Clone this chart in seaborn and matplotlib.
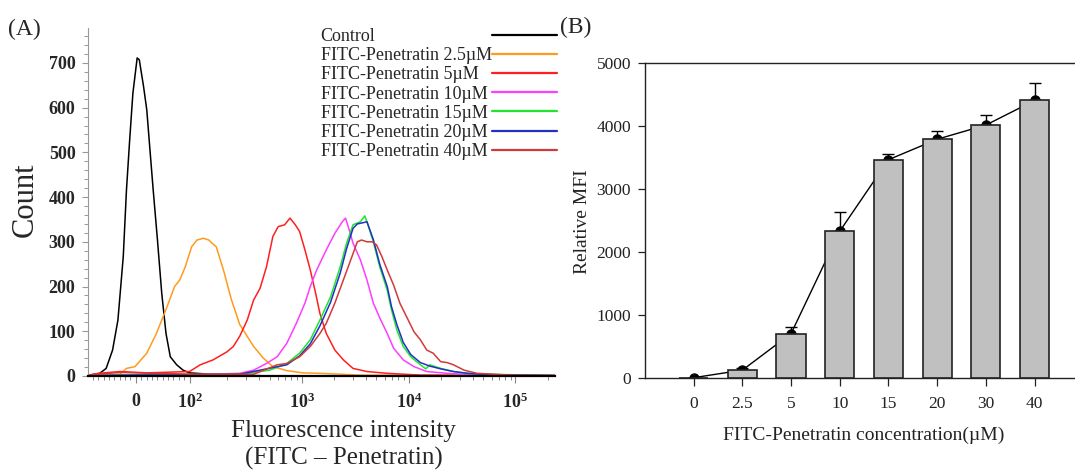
import numpy as np
import pandas as pd
import matplotlib
matplotlib.use("Agg")
import matplotlib.pyplot as plt
import seaborn as sns
from matplotlib.font_manager import FontProperties

# ---------------- data: panel A (flow cytometry histograms) ----------------
# x = position on the (biexponential) fluorescence axis, in decades; y = count
series_labels = ["Control", "FITC-Penetratin 2.5µM", "FITC-Penetratin 5µM",
                 "FITC-Penetratin 10µM", "FITC-Penetratin 15µM",
                 "FITC-Penetratin 20µM", "FITC-Penetratin 40µM"]
series_colors = ["#000000", "#ff9a1f", "#ff1f1f", "#ff3cff", "#1fe62a",
                 "#2230c8", "#d03a3a"]

ctrl_x = [1.00, 1.11, 1.17, 1.23, 1.28, 1.33, 1.36, 1.39, 1.42, 1.46, 1.48, 1.52,
          1.55, 1.58, 1.61, 1.65, 1.69, 1.73, 1.77, 1.83, 1.89, 1.95, 2.14, 2.42,
          2.70, 5.37]
ctrl_y = [1, 6, 17, 58, 125, 267, 416, 528, 632, 711, 707, 647, 595, 505, 416,
          304, 185, 95, 43, 25, 13, 7, 4, 2, 0, 0]

c25_x = [1.00, 1.20, 1.30, 1.36, 1.44, 1.55, 1.64, 1.74, 1.81, 1.86, 1.91, 1.97,
         2.02, 2.08, 2.13, 2.17, 2.20, 2.27, 2.34, 2.42, 2.55, 2.64, 2.73, 2.86,
         3.01, 3.17, 3.55, 5.37]
c25_y = [1, 2, 4, 17, 21, 51, 95, 155, 200, 215, 244, 289, 304, 308, 304, 295,
         289, 235, 172, 115, 66, 40, 21, 12, 7, 6, 2, 1]

c5_x = [1.00, 1.10, 1.30, 1.55, 1.95, 2.05, 2.17, 2.30, 2.36, 2.42, 2.49, 2.55,
        2.61, 2.67, 2.73, 2.78, 2.84, 2.89, 2.94, 2.98, 3.03, 3.08, 3.13, 3.17,
        3.23, 3.31, 3.39, 3.48, 3.61, 3.80, 4.11, 5.37]
c5_y = [2, 6, 10, 7, 10, 25, 36, 54, 66, 89, 125, 170, 196, 244, 312, 334, 338,
        353, 338, 323, 282, 237, 185, 140, 95, 58, 36, 17, 10, 6, 2, 1]

c10_x = [1.00, 1.50, 2.00, 2.42, 2.55, 2.67, 2.77, 2.86, 2.95, 3.03, 3.08, 3.14,
         3.23, 3.31, 3.38, 3.41, 3.44, 3.48, 3.55, 3.61, 3.67, 3.73, 3.80, 3.86,
         3.95, 4.05, 4.17, 4.36, 4.67, 5.37]
c10_y = [1, 3, 3, 6, 13, 28, 43, 73, 118, 163, 200, 237, 282, 319, 345, 353, 330,
         297, 259, 215, 163, 130, 95, 62, 36, 21, 10, 6, 2, 1]

c15_x = [1.00, 1.50, 2.00, 2.42, 2.70, 2.86, 2.98, 3.08, 3.17, 3.27, 3.36, 3.42,
         3.48, 3.55, 3.59, 3.62, 3.67, 3.73, 3.80, 3.84, 3.89, 3.95, 4.02, 4.11,
         4.16, 4.20, 4.30, 4.42, 4.55, 4.73, 5.37]
c15_y = [1, 2, 3, 4, 13, 28, 51, 81, 125, 177, 244, 297, 338, 345, 358, 338, 300,
         244, 192, 148, 103, 66, 43, 25, 16, 25, 17, 10, 6, 4, 1]

c20_x = [1.00, 1.50, 2.00, 2.42, 2.86, 2.98, 3.08, 3.17, 3.27, 3.36, 3.42, 3.48,
         3.52, 3.58, 3.61, 3.67, 3.73, 3.80, 3.84, 3.89, 3.95, 4.02, 4.11, 4.20,
         4.30, 4.42, 4.55, 4.73, 5.37]
c20_y = [1, 2, 3, 4, 25, 45, 72, 112, 165, 230, 285, 330, 340, 343, 345, 305,
         250, 200, 155, 115, 75, 48, 30, 22, 16, 10, 6, 3, 1]

c40_x = [1.00, 1.30, 1.60, 2.00, 2.55, 2.77, 2.86, 2.98, 3.08, 3.17, 3.23, 3.31,
         3.39, 3.47, 3.52, 3.56, 3.61, 3.66, 3.70, 3.75, 3.80, 3.86, 3.92, 3.98,
         4.05, 4.11, 4.17, 4.23, 4.30, 4.36, 4.42, 4.52, 4.64, 4.80, 4.95, 5.37]
c40_y = [2, 8, 6, 4, 4, 25, 28, 43, 66, 95, 118, 163, 215, 267, 300, 304, 300,
         300, 293, 267, 237, 203, 162, 133, 99, 81, 58, 51, 32, 30, 25, 13, 6, 4,
         2, 1]

fl_tick_pos = [1.447, 1.95, 3.0, 4.0, 5.0]
fl_tick_labels = ["0", r"$\mathbf{10^{2}}$", r"$\mathbf{10^{3}}$",
                  r"$\mathbf{10^{4}}$", r"$\mathbf{10^{5}}$"]
count_ticks = [0, 100, 200, 300, 400, 500, 600, 700]

# ---------------- data: panel B (relative MFI) ----------------
conc_labels = ["0", "2.5", "5", "10", "15", "20", "30", "40"]
mfi_values = [5, 125, 705, 2330, 3465, 3790, 4015, 4405]
mfi_err = [0, 30, 105, 300, 95, 125, 165, 285]
mfi_ticks = [0, 1000, 2000, 3000, 4000, 5000]

# ---------------- style ----------------
SERIF = "Liberation Serif"
sns.set_theme(style="ticks")
plt.rcParams["font.family"] = [SERIF, "DejaVu Serif"]
plt.rcParams["mathtext.fontset"] = "custom"
plt.rcParams["mathtext.rm"] = SERIF
plt.rcParams["mathtext.bf"] = SERIF + ":bold"
plt.rcParams["mathtext.it"] = SERIF + ":italic"

W, H = 1075, 470
fig = plt.figure(figsize=(W / 100, H / 100), dpi=100)
ax1 = fig.add_axes([88 / W, 1 - 376 / H, (555 - 88) / W, (376 - 28) / H])
ax2 = fig.add_axes([645 / W, 1 - 378 / H, (1075 - 645) / W, (378 - 63) / H])

# ---------------- panel A ----------------
xs = [ctrl_x, c25_x, c5_x, c10_x, c15_x, c20_x, c40_x]
ys = [ctrl_y, c25_y, c5_y, c10_y, c15_y, c20_y, c40_y]
frames = [pd.DataFrame({"fl": x, "count": y, "series": lab})
          for x, y, lab in zip(xs, ys, series_labels)]
df_hist = pd.concat(frames, ignore_index=True)

sns.lineplot(data=df_hist, x="fl", y="count", hue="series",
             hue_order=series_labels,
             palette=dict(zip(series_labels, series_colors)),
             sort=False, estimator=None, legend=False, linewidth=1.1, ax=ax1)

ax1.set_xlim(1.0, 5.37)
ax1.set_ylim(0, 778)
ax1.set_xticks(fl_tick_pos, labels=fl_tick_labels)
lin_minor = [1.447 + k * 0.0503 for k in range(-8, 10) if k != 0]
log_minor = [d + np.log10(m) for d in (2, 3, 4, 5) for m in range(2, 10)
             if d + np.log10(m) < 5.37]
ax1.set_xticks(lin_minor + log_minor, minor=True)
ax1.set_yticks(count_ticks, labels=[str(t) for t in count_ticks])
ax1.set_yticks(list(range(0, 780, 20)), minor=True)

ax1.tick_params(axis="x", which="major", length=5, width=0.8, color="#888888",
                labelsize=13, pad=7, direction="out", labelfontfamily=SERIF)
ax1.tick_params(axis="x", which="minor", length=3, width=0.7, color="#888888",
                direction="out")
ax1.tick_params(axis="y", which="major", length=4, width=0.8, color="#999999",
                labelsize=13, pad=5, direction="out", labelfontfamily=SERIF)
ax1.tick_params(axis="y", which="minor", length=3, width=0.7, color="#999999",
                direction="out")
for lbl in ax1.get_xticklabels() + ax1.get_yticklabels():
    lbl.set_fontweight("bold")
for s in ("top", "right"):
    ax1.spines[s].set_visible(False)
ax1.spines["left"].set_color("#999999")
ax1.spines["left"].set_linewidth(0.8)
ax1.spines["bottom"].set_color("black")
ax1.spines["bottom"].set_linewidth(1.6)

ax1.set_ylabel("Count", fontsize=22, fontfamily=SERIF)
ax1.yaxis.set_label_coords(-0.103, 0.506)
ax1.set_xlabel("Fluorescence intensity\n(FITC – Penetratin)", fontsize=18,
               linespacing=1.3, fontfamily=SERIF)
ax1.xaxis.set_label_coords(0.548, -0.125)

leg = ax1.legend(handles=ax1.get_lines()[:len(series_labels)],
                 labels=series_labels, loc="upper right",
                 bbox_to_anchor=(1.004, 1.0), markerfirst=False,
                 frameon=False, handlelength=3.6, handletextpad=0.0,
                 labelspacing=0.12, borderpad=0, borderaxespad=0,
                 prop=FontProperties(family=SERIF, size=13))
for line in leg.get_lines():
    line.set_linewidth(1.6)
# left-align the legend texts while keeping the line samples right-aligned
fig.canvas.draw()
rend = fig.canvas.get_renderer()
widths = [t.get_window_extent(rend).width for t in leg.get_texts()]
maxw = max(widths)
try:
    col = leg._legend_handle_box.get_children()[0]
    for hp, w in zip(col.get_children(), widths):
        hp.sep = (maxw - w) * 72.0 / fig.dpi
except Exception:
    pass

# ---------------- panel B ----------------
df_mfi = pd.DataFrame({"conc": conc_labels, "mfi": mfi_values})
pos = np.arange(len(conc_labels))
ax2.plot(pos, mfi_values, color="black", linewidth=1.0, marker="o",
         markersize=6.5, zorder=2)
ax2.errorbar(pos, mfi_values, yerr=[np.zeros(len(mfi_err)), mfi_err],
             fmt="none", ecolor="black", elinewidth=1.0, capsize=4.5,
             capthick=1.0, zorder=2)
sns.barplot(data=df_mfi, x="conc", y="mfi", order=conc_labels,
            color="#c0c0c0", saturation=1, edgecolor="#222222", linewidth=1.2,
            width=0.6, errorbar=None, ax=ax2)
for p in ax2.patches:
    p.set_zorder(3)

ax2.set_xlim(-1.0, 7.83)
ax2.set_ylim(0, 5000)
ax2.set_yticks(mfi_ticks, labels=[str(t) for t in mfi_ticks])
ax2.tick_params(axis="y", length=5, width=0.9, color="#222222", labelsize=12.5,
                pad=5, direction="out", labelcolor="#222222",
                labelfontfamily=SERIF)
ax2.tick_params(axis="x", length=6, width=0.9, color="#222222", labelsize=12.5,
                pad=7, direction="out", labelcolor="#222222",
                labelfontfamily=SERIF)
for lbl in ax2.get_xticklabels() + ax2.get_yticklabels():
    lbl.set_fontfamily(SERIF)
ax2.spines["right"].set_visible(False)
for s in ("left", "top", "bottom"):
    ax2.spines[s].set_color("#222222")
    ax2.spines[s].set_linewidth(1.0)

ax2.set_ylabel("Relative MFI", fontsize=14, color="#222222", fontfamily=SERIF)
ax2.yaxis.set_label_coords(-0.126, 0.498)
ax2.set_xlabel("FITC-Penetratin concentration(µM)", fontsize=14,
               color="#222222", fontfamily=SERIF)
ax2.xaxis.set_label_coords(0.508, -0.155)

# panel letters
fig.text(8 / W, 1 - 29 / H, "(A)", fontsize=17, va="center", ha="left",
         fontfamily=SERIF)
fig.text(560 / W, 1 - 27 / H, "(B)", fontsize=17, va="center", ha="left",
         fontfamily=SERIF)

fig.savefig("out.png", dpi=100)
